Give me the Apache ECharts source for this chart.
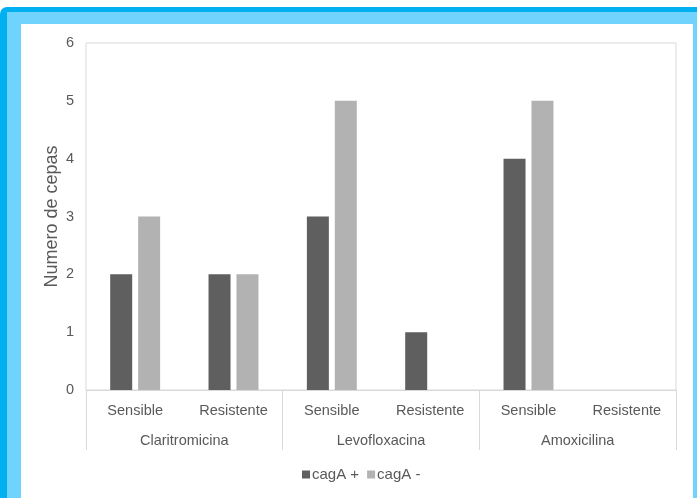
<!DOCTYPE html>
<html>
<head>
<meta charset="utf-8">
<script src="https://cdn.jsdelivr.net/npm/echarts@6/dist/echarts.min.js"></script>
<style>
html,body{margin:0;padding:0;width:697px;height:498px;overflow:hidden;background:#fff;}
#f1{position:absolute;left:0;top:7px;width:730px;height:600px;background:#00b0f0;border-radius:7px;}
#f2{position:absolute;left:7px;top:12px;width:700px;height:600px;background:#6fd3fe;}
#f3{position:absolute;left:21px;top:24px;width:672px;height:600px;background:#fff;}
#chart{position:absolute;left:0;top:0;width:697px;height:498px;}
</style>
</head>
<body>
<div id="f1"></div><div id="f2"></div><div id="f3"></div>
<div id="chart"></div>
<script>
var subCategories = ['Sensible','Resistente','Sensible','Resistente','Sensible','Resistente'];
var mainCategories = ['Claritromicina','Levofloxacina','Amoxicilina'];
var cagAPos = [2, 2, 3, 1, 4, 0];
var cagANeg = [3, 2, 5, 0, 5, 0];
var yTicks = {min: 0, max: 6, interval: 1};

var txt = '#595959';
var font = 'Liberation Sans, Arial, sans-serif';
var chart = echarts.init(document.getElementById('chart'), null, {renderer: 'canvas'});
chart.setOption({
  backgroundColor: 'transparent',
  animation: false,
  textStyle: {fontFamily: font, color: txt},
  grid: {left: 86, top: 43, right: 21, bottom: 108, show: true, borderColor: '#d9d9d9', borderWidth: 1, backgroundColor: 'transparent'},
  legend: {
    left: 297, top: 462, itemWidth: 8, itemHeight: 8, itemGap: 8,
    icon: 'rect',
    textStyle: {color: txt, fontSize: 15, fontFamily: font, padding: [0,0,0,-3]},
    data: ['cagA +', 'cagA -']
  },
  xAxis: [
    {
      type: 'category', data: subCategories, position: 'bottom',
      axisLine: {show: true, lineStyle: {color: '#d9d9d9', width: 1}},
      axisTick: {show: false},
      axisLabel: {interval: 0, margin: 13, color: txt, fontSize: 14.5, fontFamily: font},
      splitLine: {show: false}
    },
    {
      type: 'category', data: mainCategories, position: 'bottom',
      axisLine: {show: false},
      axisTick: {show: true, interval: 0, length: 60, lineStyle: {color: '#d9d9d9', width: 1}},
      axisLabel: {interval: 0, margin: 43, color: txt, fontSize: 14.5, fontFamily: font},
      splitLine: {show: false}
    }
  ],
  yAxis: {
    type: 'value', min: yTicks.min, max: yTicks.max, interval: yTicks.interval,
    name: 'Numero de cepas', nameLocation: 'middle', nameGap: 25, nameRotate: 90,
    nameMoveOverlap: false,
    nameTextStyle: {color: txt, fontSize: 18, fontFamily: font},
    axisLine: {show: false}, axisTick: {show: false}, splitLine: {show: false},
    axisLabel: {color: txt, fontSize: 14.5, margin: 12, fontFamily: font}
  },
  series: [
    {name: 'cagA +', type: 'bar', xAxisIndex: 0, data: cagAPos, barWidth: 22, barGap: '27%', itemStyle: {color: '#5f5f5f'}},
    {name: 'cagA -', type: 'bar', xAxisIndex: 0, data: cagANeg, barWidth: 22, barGap: '27%', itemStyle: {color: '#b2b2b2'}}
  ]
});
</script>
</body>
</html>
